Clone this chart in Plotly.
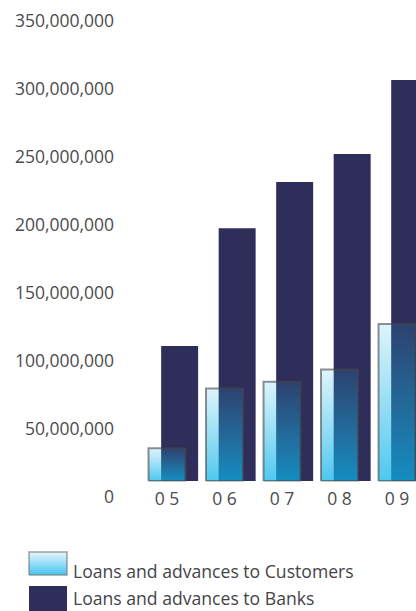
import plotly.graph_objects as go

# ---------------- data ----------------
categories = ["0 5", "0 6", "0 7", "0 8", "0 9"]
customers = [24e6, 68e6, 73e6, 82e6, 115.5e6]
banks = [99.3e6, 186e6, 220e6, 240.6e6, 295e6]
tick_values = [0, 50e6, 100e6, 150e6, 200e6, 250e6, 300e6, 350e6]
tick_labels = ["0", "50,000,000", "100,000,000", "150,000,000", "200,000,000",
               "250,000,000", "300,000,000", "350,000,000"]
series_names = ["Loans and advances to Customers", "Loans and advances to Banks"]

# ---------------- styling ----------------
W, H = 416, 611
FONT = "Open Sans"
TXT = "#4c4c50"
NAVY = "#2f2d5a"
CUST_SCALE = [[0, "rgba(10,178,232,0.72)"], [1, "rgba(28,183,233,0.15)"]]
CUST_LINE = "rgba(70,70,70,0.6)"
BAR_W = 0.643
BANK_SHIFT = 0.22

fig = go.Figure()
idx = list(range(len(categories)))

# Banks (behind)
fig.add_trace(go.Bar(
    x=idx, y=banks, width=BAR_W, offset=BANK_SHIFT - BAR_W / 2,
    marker=dict(color=NAVY, line=dict(width=0)),
    name=series_names[1], showlegend=False, hoverinfo="skip",
    xaxis="x", yaxis="y"))

# Customers (front, translucent gradient)
for i, v in zip(idx, customers):
    x0, x1 = i - BAR_W / 2, i + BAR_W / 2
    fig.add_trace(go.Scatter(
        x=[x0, x1, x1, x0, x0], y=[0, 0, v, v, 0],
        fill="toself", mode="lines",
        line=dict(color=CUST_LINE, width=2),
        fillgradient=dict(type="vertical", colorscale=CUST_SCALE),
        name=series_names[0], showlegend=False, hoverinfo="skip",
        xaxis="x", yaxis="y"))

# ---------------- custom legend swatches ----------------
def rect(x0, x1, y0, y1):
    return [x0, x1, x1, x0, x0], [y0, y0, y1, y1, y0]

sx, sy = rect(29, 67, 36, 59)
fig.add_trace(go.Scatter(
    x=sx, y=sy, fill="toself", mode="lines",
    line=dict(color="rgba(120,120,120,0.7)", width=1.5),
    fillgradient=dict(type="vertical",
                      colorscale=[[0, "#44c4ee"], [1, "#e6f7fd"]]),
    showlegend=False, hoverinfo="skip", xaxis="x2", yaxis="y2"))
sx, sy = rect(29, 67, 0, 25)
fig.add_trace(go.Scatter(
    x=sx, y=sy, fill="toself", mode="lines",
    line=dict(color=NAVY, width=0), fillcolor=NAVY,
    showlegend=False, hoverinfo="skip", xaxis="x2", yaxis="y2"))

legend_y_px = [571, 598]
for name, ypx in zip(series_names, legend_y_px):
    fig.add_annotation(
        text=name, xref="paper", yref="paper", x=71 / W, y=(H - ypx) / H,
        xanchor="left", yanchor="middle", showarrow=False,
        font=dict(family=FONT, size=17.6, color="#444448"))

y_bottom_px = 481.4
fig.update_layout(
    width=W, height=H, margin=dict(l=0, r=0, t=0, b=0, autoexpand=False),
    paper_bgcolor="white", plot_bgcolor="white",
    showlegend=False,
    xaxis=dict(domain=[118 / W, 1], range=[-0.852, 4.33], automargin=False,
               tickvals=idx, ticktext=categories,
               ticklabelstandoff=5,
               showgrid=False, zeroline=False, showline=False, ticks="",
               tickfont=dict(family=FONT, size=17.5, color=TXT)),
    yaxis=dict(domain=[(H - y_bottom_px) / H, 1], range=[-0.3e6, 353.9e6],
               automargin=False,
               tickvals=tick_values, ticktext=tick_labels,
               ticklabelshift=16, ticklabelstandoff=3,
               showgrid=False, zeroline=False, showline=False, ticks="",
               tickfont=dict(family=FONT, size=17.5, color=TXT)),
    xaxis2=dict(domain=[0, 1], range=[0, W], visible=False, anchor="y2"),
    yaxis2=dict(domain=[0, 0.2], range=[0, 0.2 * H], visible=False, anchor="x2"),
)

fig.write_html("out.html")
